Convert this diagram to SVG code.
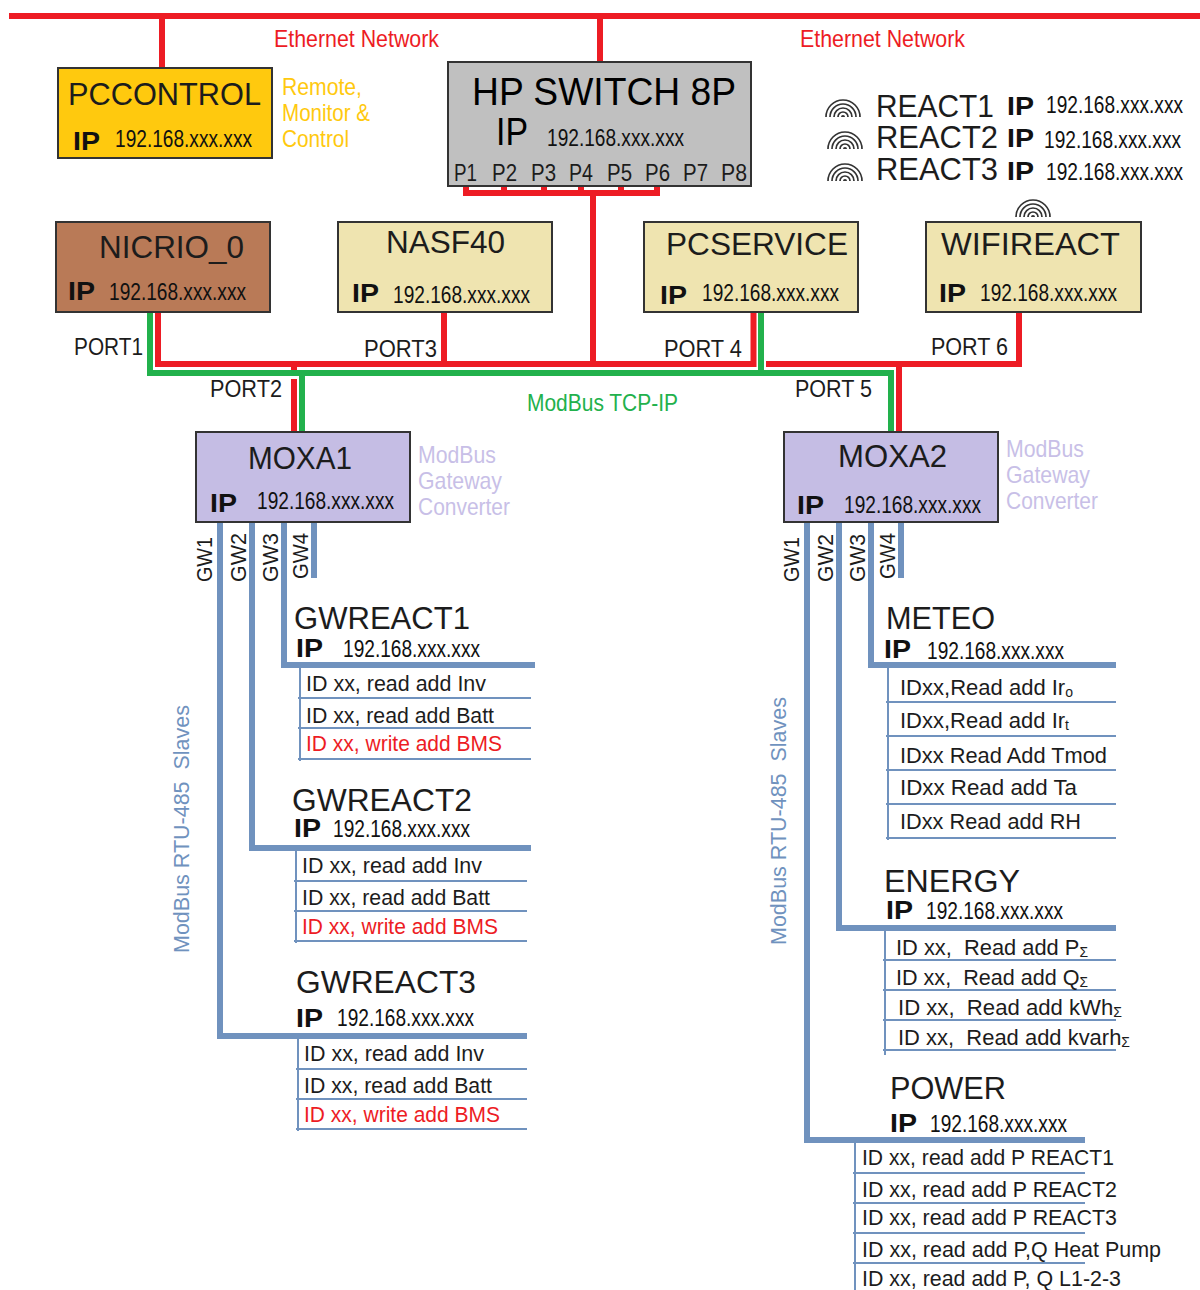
<svg xmlns="http://www.w3.org/2000/svg" width="1200" height="1290" viewBox="0 0 1200 1290">
<style>
text{font-family:"Liberation Sans",Arial,sans-serif;fill:#1c1c1c;white-space:pre}
.box{stroke:#333;stroke-width:2}
.y{fill:#FFC90E}.br{fill:#B97A57}.k{fill:#EFE4B0}.v{fill:#C5BDE4}.g{fill:#C0C0C0}
.h{font-size:32px}
.ip{font-size:26px;font-weight:bold;fill:#111}
.a{font-size:24px;fill:#111}
.r{font-size:22px}
.red{fill:#ED1C24}
.p{font-size:24px}
.note{font-size:24px}
.sub{font-size:14px}
.wire{fill:none;stroke-linecap:butt;stroke-linejoin:miter}
.rd{stroke:#ED1C24;stroke-width:6}
.gr{stroke:#22B14C;stroke-width:6}
.halo{stroke:#fff;stroke-width:9}
.bl{stroke:#7092BE;stroke-width:6}
.thin{stroke:#7092BE;stroke-width:2}
.arc{fill:none;stroke:#333;stroke-width:1.7}
</style>
<defs>
<g id="wifi">
<path class="arc" d="M-17,0A17,17 0 0 1 17,0M-13,0A13,13 0 0 1 13,0M-9,0A9,9 0 0 1 9,0M-5,0A5,5 0 0 1 5,0"/>
<path d="M-2,0A2,2 0 0 1 2,0Z" fill="#333"/>
</g>
</defs>

<g id="connectors">
<path class="wire rd" d="M9,16H1200M162,16V68M600,16V62"/>
<path class="wire rd" d="M466,186V193M504,186V193M544,186V193M581,186V193M621,186V193M657,186V193M463,193H660M593,193V364"/>
<path class="wire rd" d="M158,312V364H753.500V312M294,364V432M444,312V364M766,364H1019V312M899,364V432"/>
<path class="wire halo" d="M294,373V379"/>
<path class="wire rd" d="M294,379V432"/>
<path class="wire gr" d="M150,312V373H891V432M761,312V373M302,373V432"/>
<path class="wire bl" d="M220,522V1036H527M252,522V848H531M284,522V665H535M314,522V578"/>
<path class="wire bl" d="M807,522V1140H1085M839,522V928H1116M871,522V665H1116M901,522V578"/>
<path class="wire thin" d="M300,668V761M298,698H531M298,728H531M298,759H531"/>
<path class="wire thin" d="M296,851V943M294,881H527M294,911H527M294,941H527"/>
<path class="wire thin" d="M298,1039V1131M296,1069H527M296,1099H527M296,1129H527"/>
<path class="wire thin" d="M888,668V840M886,702H1116M886,736H1116M886,770H1116M886,804H1116M886,838H1116"/>
<path class="wire thin" d="M885,931V1055M883,960H1116M883,990H1116M883,1020H1116M883,1050H1116"/>
<path class="wire thin" d="M855,1143V1290M853,1173H1085M853,1203H1085M853,1233H1085M853,1263H1085"/>
</g>

<g id="labels">
<text class="note red" x="274" y="47" textLength="165" lengthAdjust="spacingAndGlyphs">Ethernet Network</text>
<text class="note red" x="800" y="47" textLength="165" lengthAdjust="spacingAndGlyphs">Ethernet Network</text>
<text class="note" style="fill:#FFC90E" x="282" y="95" textLength="80" lengthAdjust="spacingAndGlyphs">Remote,</text>
<text class="note" style="fill:#FFC90E" x="282" y="121" textLength="88" lengthAdjust="spacingAndGlyphs">Monitor &amp;</text>
<text class="note" style="fill:#FFC90E" x="282" y="147" textLength="67" lengthAdjust="spacingAndGlyphs">Control</text>
<text class="p" x="74" y="355" textLength="69" lengthAdjust="spacingAndGlyphs">PORT1</text>
<text class="p" x="210" y="397" textLength="72" lengthAdjust="spacingAndGlyphs">PORT2</text>
<text class="p" x="364" y="357" textLength="73" lengthAdjust="spacingAndGlyphs">PORT3</text>
<text class="p" x="664" y="357" textLength="78" lengthAdjust="spacingAndGlyphs">PORT 4</text>
<text class="p" x="795" y="397" textLength="77" lengthAdjust="spacingAndGlyphs">PORT 5</text>
<text class="p" x="931" y="355" textLength="77" lengthAdjust="spacingAndGlyphs">PORT 6</text>
<text class="note" style="fill:#22B14C" x="527" y="411" textLength="151" lengthAdjust="spacingAndGlyphs">ModBus TCP-IP</text>
<text class="note" style="fill:#C8BFE7" x="418" y="463" textLength="78" lengthAdjust="spacingAndGlyphs">ModBus</text>
<text class="note" style="fill:#C8BFE7" x="418" y="489" textLength="84" lengthAdjust="spacingAndGlyphs">Gateway</text>
<text class="note" style="fill:#C8BFE7" x="418" y="515" textLength="92" lengthAdjust="spacingAndGlyphs">Converter</text>
<text class="note" style="fill:#C8BFE7" x="1006" y="457" textLength="78" lengthAdjust="spacingAndGlyphs">ModBus</text>
<text class="note" style="fill:#C8BFE7" x="1006" y="483" textLength="84" lengthAdjust="spacingAndGlyphs">Gateway</text>
<text class="note" style="fill:#C8BFE7" x="1006" y="509" textLength="92" lengthAdjust="spacingAndGlyphs">Converter</text>
<text class="r" transform="translate(212,582) rotate(-90)" textLength="45" lengthAdjust="spacingAndGlyphs">GW1</text>
<text class="r" transform="translate(246,582) rotate(-90)" textLength="49" lengthAdjust="spacingAndGlyphs">GW2</text>
<text class="r" transform="translate(278,582) rotate(-90)" textLength="49" lengthAdjust="spacingAndGlyphs">GW3</text>
<text class="r" transform="translate(308,579) rotate(-90)" textLength="46" lengthAdjust="spacingAndGlyphs">GW4</text>
<text class="r" transform="translate(799,582) rotate(-90)" textLength="45" lengthAdjust="spacingAndGlyphs">GW1</text>
<text class="r" transform="translate(833,582) rotate(-90)" textLength="48" lengthAdjust="spacingAndGlyphs">GW2</text>
<text class="r" transform="translate(865,582) rotate(-90)" textLength="48" lengthAdjust="spacingAndGlyphs">GW3</text>
<text class="r" transform="translate(895,579) rotate(-90)" textLength="46" lengthAdjust="spacingAndGlyphs">GW4</text>
<text class="r" style="fill:#7092BE" transform="translate(189,953) rotate(-90)" textLength="248" lengthAdjust="spacingAndGlyphs">ModBus RTU-485  Slaves</text>
<text class="r" style="fill:#7092BE" transform="translate(786,945) rotate(-90)" textLength="248" lengthAdjust="spacingAndGlyphs">ModBus RTU-485  Slaves</text>
</g>

<g id="pccontrol">
<rect class="box y" x="58" y="68" width="214" height="90"/>
<text class="h" x="68" y="105" textLength="193" lengthAdjust="spacingAndGlyphs">PCCONTROL</text>
<text class="ip" x="73" y="150" textLength="27" lengthAdjust="spacingAndGlyphs">IP</text>
<text class="a" x="115" y="147" textLength="137" lengthAdjust="spacingAndGlyphs">192.168.xxx.xxx</text>
</g>
<g id="hp-switch">
<rect class="box g" x="448" y="62" width="303" height="124"/>
<text x="472" y="105" style="font-size:38px;fill:#000" textLength="264" lengthAdjust="spacingAndGlyphs">HP SWITCH 8P</text>
<text x="496" y="145" style="font-size:38px;fill:#000" textLength="32" lengthAdjust="spacingAndGlyphs">IP</text>
<text class="a" x="547" y="146" textLength="137" lengthAdjust="spacingAndGlyphs">192.168.xxx.xxx</text>
<text class="p" x="454" y="181" textLength="23" lengthAdjust="spacingAndGlyphs">P1</text>
<text class="p" x="492" y="181" textLength="25" lengthAdjust="spacingAndGlyphs">P2</text>
<text class="p" x="531" y="181" textLength="25" lengthAdjust="spacingAndGlyphs">P3</text>
<text class="p" x="569" y="181" textLength="24" lengthAdjust="spacingAndGlyphs">P4</text>
<text class="p" x="607" y="181" textLength="25" lengthAdjust="spacingAndGlyphs">P5</text>
<text class="p" x="645" y="181" textLength="25" lengthAdjust="spacingAndGlyphs">P6</text>
<text class="p" x="683" y="181" textLength="25" lengthAdjust="spacingAndGlyphs">P7</text>
<text class="p" x="721" y="181" textLength="26" lengthAdjust="spacingAndGlyphs">P8</text>
</g>
<g id="reacts">
<use href="#wifi" x="843" y="117"/>
<use href="#wifi" x="845" y="149"/>
<use href="#wifi" x="845" y="181"/>
<text class="h" x="876" y="117" textLength="118" lengthAdjust="spacingAndGlyphs">REACT1</text>
<text class="ip" x="1007" y="115" textLength="27" lengthAdjust="spacingAndGlyphs">IP</text>
<text class="a" x="1046" y="113" textLength="137" lengthAdjust="spacingAndGlyphs">192.168.xxx.xxx</text>
<text class="h" x="876" y="148" textLength="122" lengthAdjust="spacingAndGlyphs">REACT2</text>
<text class="ip" x="1007" y="147" textLength="27" lengthAdjust="spacingAndGlyphs">IP</text>
<text class="a" x="1044" y="148" textLength="137" lengthAdjust="spacingAndGlyphs">192.168.xxx.xxx</text>
<text class="h" x="876" y="180" textLength="122" lengthAdjust="spacingAndGlyphs">REACT3</text>
<text class="ip" x="1007" y="180" textLength="27" lengthAdjust="spacingAndGlyphs">IP</text>
<text class="a" x="1046" y="180" textLength="137" lengthAdjust="spacingAndGlyphs">192.168.xxx.xxx</text>
</g>
<g id="nicrio">
<rect class="box br" x="56" y="222" width="214" height="90"/>
<text class="h" x="99" y="258" textLength="145" lengthAdjust="spacingAndGlyphs">NICRIO_0</text>
<text class="ip" x="68" y="300" textLength="27" lengthAdjust="spacingAndGlyphs">IP</text>
<text class="a" x="109" y="300" textLength="137" lengthAdjust="spacingAndGlyphs">192.168.xxx.xxx</text>
</g>
<g id="nasf40">
<rect class="box k" x="338" y="222" width="214" height="90"/>
<text class="h" x="386" y="253" textLength="119" lengthAdjust="spacingAndGlyphs">NASF40</text>
<text class="ip" x="352" y="302" textLength="27" lengthAdjust="spacingAndGlyphs">IP</text>
<text class="a" x="393" y="303" textLength="137" lengthAdjust="spacingAndGlyphs">192.168.xxx.xxx</text>
</g>
<g id="pcservice">
<rect class="box k" x="644" y="222" width="214" height="90"/>
<text class="h" x="666" y="255" textLength="182" lengthAdjust="spacingAndGlyphs">PCSERVICE</text>
<text class="ip" x="660" y="304" textLength="27" lengthAdjust="spacingAndGlyphs">IP</text>
<text class="a" x="702" y="301" textLength="137" lengthAdjust="spacingAndGlyphs">192.168.xxx.xxx</text>
</g>
<g id="wifireact">
<use href="#wifi" x="1033" y="217"/>
<rect class="box k" x="926" y="222" width="215" height="90"/>
<text class="h" x="941" y="255" textLength="179" lengthAdjust="spacingAndGlyphs">WIFIREACT</text>
<text class="ip" x="939" y="302" textLength="27" lengthAdjust="spacingAndGlyphs">IP</text>
<text class="a" x="980" y="301" textLength="137" lengthAdjust="spacingAndGlyphs">192.168.xxx.xxx</text>
</g>
<g id="moxa1">
<rect class="box v" x="196" y="432" width="214" height="90"/>
<text class="h" x="248" y="469" textLength="104" lengthAdjust="spacingAndGlyphs">MOXA1</text>
<text class="ip" x="210" y="512" textLength="27" lengthAdjust="spacingAndGlyphs">IP</text>
<text class="a" x="257" y="509" textLength="137" lengthAdjust="spacingAndGlyphs">192.168.xxx.xxx</text>
</g>
<g id="moxa2">
<rect class="box v" x="784" y="432" width="214" height="90"/>
<text class="h" x="838" y="467" textLength="109" lengthAdjust="spacingAndGlyphs">MOXA2</text>
<text class="ip" x="797" y="514" textLength="27" lengthAdjust="spacingAndGlyphs">IP</text>
<text class="a" x="844" y="513" textLength="137" lengthAdjust="spacingAndGlyphs">192.168.xxx.xxx</text>
</g>
<g id="gwreact1">
<text class="h" x="294" y="629" textLength="176" lengthAdjust="spacingAndGlyphs">GWREACT1</text>
<text class="ip" x="296" y="657" textLength="27" lengthAdjust="spacingAndGlyphs">IP</text>
<text class="a" x="343" y="657" textLength="137" lengthAdjust="spacingAndGlyphs">192.168.xxx.xxx</text>
<text class="r" x="306" y="691" textLength="180" lengthAdjust="spacingAndGlyphs">ID xx, read add Inv</text>
<text class="r" x="306" y="723" textLength="188" lengthAdjust="spacingAndGlyphs">ID xx, read add Batt</text>
<text class="r red" x="306" y="751" textLength="196" lengthAdjust="spacingAndGlyphs">ID xx, write add BMS</text>
</g>
<g id="gwreact2">
<text class="h" x="292" y="811" textLength="180" lengthAdjust="spacingAndGlyphs">GWREACT2</text>
<text class="ip" x="294" y="837" textLength="27" lengthAdjust="spacingAndGlyphs">IP</text>
<text class="a" x="333" y="837" textLength="137" lengthAdjust="spacingAndGlyphs">192.168.xxx.xxx</text>
<text class="r" x="302" y="873" textLength="180" lengthAdjust="spacingAndGlyphs">ID xx, read add Inv</text>
<text class="r" x="302" y="905" textLength="188" lengthAdjust="spacingAndGlyphs">ID xx, read add Batt</text>
<text class="r red" x="302" y="934" textLength="196" lengthAdjust="spacingAndGlyphs">ID xx, write add BMS</text>
</g>
<g id="gwreact3">
<text class="h" x="296" y="993" textLength="180" lengthAdjust="spacingAndGlyphs">GWREACT3</text>
<text class="ip" x="296" y="1027" textLength="27" lengthAdjust="spacingAndGlyphs">IP</text>
<text class="a" x="337" y="1026" textLength="137" lengthAdjust="spacingAndGlyphs">192.168.xxx.xxx</text>
<text class="r" x="304" y="1061" textLength="180" lengthAdjust="spacingAndGlyphs">ID xx, read add Inv</text>
<text class="r" x="304" y="1093" textLength="188" lengthAdjust="spacingAndGlyphs">ID xx, read add Batt</text>
<text class="r red" x="304" y="1122" textLength="196" lengthAdjust="spacingAndGlyphs">ID xx, write add BMS</text>
</g>
<g id="meteo">
<text class="h" x="886" y="629" textLength="109" lengthAdjust="spacingAndGlyphs">METEO</text>
<text class="ip" x="884" y="658" textLength="27" lengthAdjust="spacingAndGlyphs">IP</text>
<text class="a" x="927" y="659" textLength="137" lengthAdjust="spacingAndGlyphs">192.168.xxx.xxx</text>
<text class="r" x="900" y="695" textLength="173" lengthAdjust="spacingAndGlyphs">IDxx,Read add Ir<tspan class="sub" dy="2">o</tspan></text>
<text class="r" x="900" y="728" textLength="169" lengthAdjust="spacingAndGlyphs">IDxx,Read add Ir<tspan class="sub" dy="2">t</tspan></text>
<text class="r" x="900" y="763" textLength="207" lengthAdjust="spacingAndGlyphs">IDxx Read Add Tmod</text>
<text class="r" x="900" y="795" textLength="177" lengthAdjust="spacingAndGlyphs">IDxx Read add Ta</text>
<text class="r" x="900" y="829" textLength="181" lengthAdjust="spacingAndGlyphs">IDxx Read add RH</text>
</g>
<g id="energy">
<text class="h" x="884" y="892" textLength="136" lengthAdjust="spacingAndGlyphs">ENERGY</text>
<text class="ip" x="886" y="919" textLength="27" lengthAdjust="spacingAndGlyphs">IP</text>
<text class="a" x="926" y="919" textLength="137" lengthAdjust="spacingAndGlyphs">192.168.xxx.xxx</text>
<text class="r" x="896" y="955" textLength="192" lengthAdjust="spacingAndGlyphs">ID xx,  Read add P<tspan class="sub" dy="2">Σ</tspan></text>
<text class="r" x="896" y="985" textLength="192" lengthAdjust="spacingAndGlyphs">ID xx,  Read add Q<tspan class="sub" dy="2">Σ</tspan></text>
<text class="r" x="898" y="1015" textLength="224" lengthAdjust="spacingAndGlyphs">ID xx,  Read add kWh<tspan class="sub" dy="2">Σ</tspan></text>
<text class="r" x="898" y="1045" textLength="232" lengthAdjust="spacingAndGlyphs">ID xx,  Read add kvarh<tspan class="sub" dy="2">Σ</tspan></text>
</g>
<g id="power">
<text class="h" x="890" y="1099" textLength="116" lengthAdjust="spacingAndGlyphs">POWER</text>
<text class="ip" x="890" y="1132" textLength="27" lengthAdjust="spacingAndGlyphs">IP</text>
<text class="a" x="930" y="1132" textLength="137" lengthAdjust="spacingAndGlyphs">192.168.xxx.xxx</text>
<text class="r" x="862" y="1165" textLength="252" lengthAdjust="spacingAndGlyphs">ID xx, read add P REACT1</text>
<text class="r" x="862" y="1197" textLength="255" lengthAdjust="spacingAndGlyphs">ID xx, read add P REACT2</text>
<text class="r" x="862" y="1225" textLength="255" lengthAdjust="spacingAndGlyphs">ID xx, read add P REACT3</text>
<text class="r" x="862" y="1257" textLength="299" lengthAdjust="spacingAndGlyphs">ID xx, read add P,Q Heat Pump</text>
<text class="r" x="862" y="1286" textLength="259" lengthAdjust="spacingAndGlyphs">ID xx, read add P, Q L1-2-3</text>
</g>
</svg>
